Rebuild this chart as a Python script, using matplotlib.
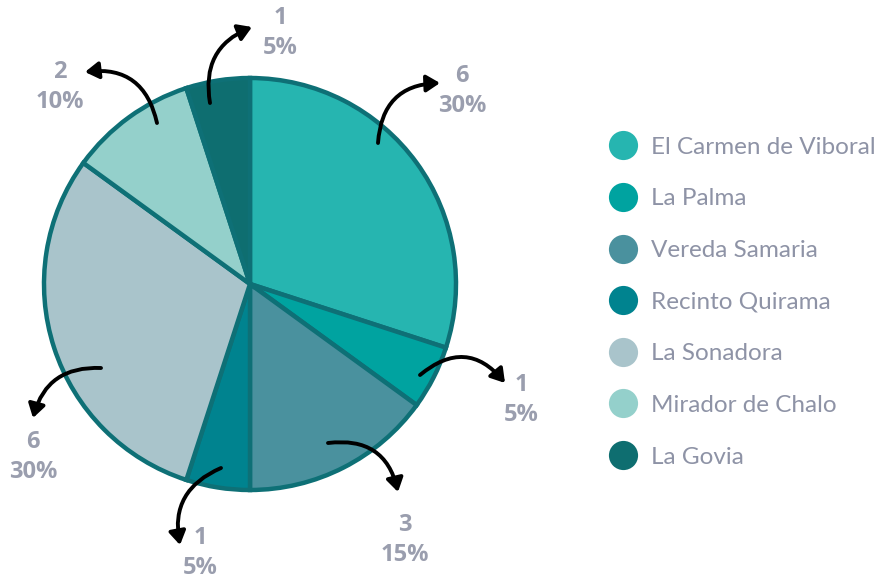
import matplotlib
matplotlib.use('Agg')
import matplotlib.pyplot as plt
from matplotlib.lines import Line2D

plt.rcParams['font.family'] = ['Lato', 'DejaVu Sans']

# data
places = ['El Carmen de Viboral', 'La Palma', 'Vereda Samaria', 'Recinto Quirama',
          'La Sonadora', 'Mirador de Chalo', 'La Govia']
counts = [6, 1, 3, 1, 6, 2, 1]
colors = ['#26b5b0', '#00a3a0', '#4a919e', '#00838f', '#a9c4cb', '#94d0cb', '#0e6e70']
edge = '#0e7076'
label_grey = '#9a9eae'

# where each callout sits (pixels from top-left): arrow start, arrow end, text, curvature
callouts = [
    ((378, 143), (440, 83), (462, 91), -0.45),
    ((420, 375), (505, 383), (521, 400), -0.5),
    ((328, 443), (398, 492), (405, 540), -0.45),
    ((221, 468), (180, 545), (200, 553), 0.4),
    ((101, 368), (33, 418), (33, 457), 0.4),
    ((157, 123), (85, 72), (60, 87), 0.45),
    ((210, 103), (252, 27), (280, 33), -0.4),
]

W, H = 886, 581
fig = plt.figure(figsize=(W / 100, H / 100), dpi=100)
ax = fig.add_axes([0, 0, 1, 1])

def px(x, y):
    return (x, H - y)

total = sum(counts)
ax.pie(counts, colors=colors, startangle=90, counterclock=False,
       center=px(250, 284), radius=206, frame=True,
       wedgeprops=dict(edgecolor=edge, linewidth=3.2))

for n, (a, b, t, rad) in zip(counts, callouts):
    ax.annotate('', xy=px(*b), xytext=px(*a),
                arrowprops=dict(arrowstyle='-|>,head_length=0.8,head_width=0.5',
                                color='black', lw=2.8,
                                connectionstyle=f'arc3,rad={rad}',
                                shrinkA=0, shrinkB=0))
    ax.text(*px(*t), f'{n}\n{round(100 * n / total)}%', ha='center', va='center',
            fontsize=17, fontweight='bold', family=['Open Sans', 'DejaVu Sans'],
            color=label_grey, linespacing=1.3)

ax.set_xlim(0, W)
ax.set_ylim(0, H)
ax.set_aspect('equal')
ax.axis('off')

handles = [Line2D([], [], marker='o', linestyle='none', markersize=21,
                  markerfacecolor=c, markeredgecolor='none') for c in colors]
leg = ax.legend(handles, places, loc='upper left', bbox_to_anchor=(596 / W, 1 - 127 / H),
                frameon=False, fontsize=17.5, labelspacing=1.26, handletextpad=0.45,
                borderaxespad=0, handlelength=1.4)
for txt in leg.get_texts():
    txt.set_color('#8e93a6')

fig.savefig('out.png', dpi=100)
